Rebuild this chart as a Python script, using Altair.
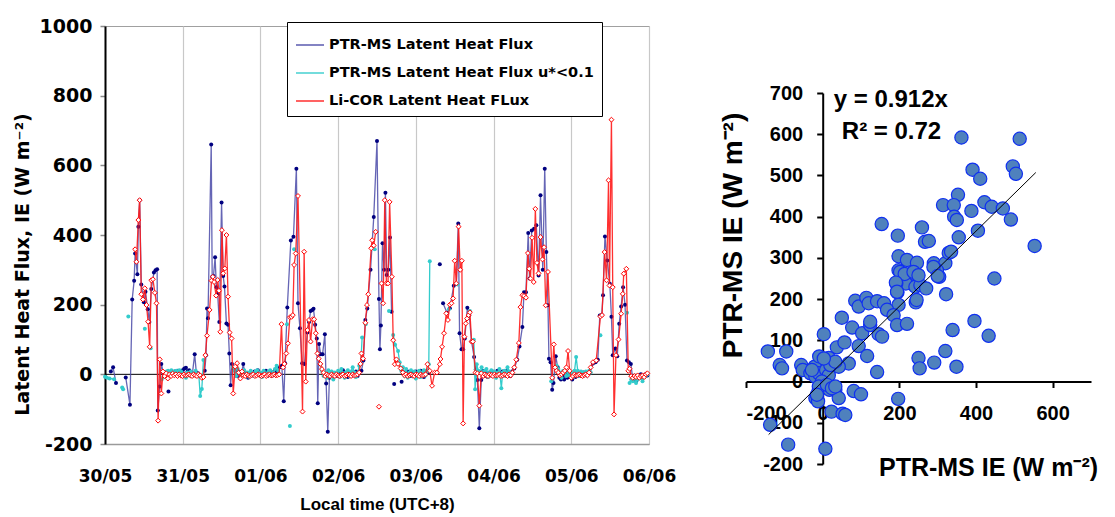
import altair as alt
import pandas as pd

# ---------------- time series (hours since 30/05 00:00, W m-2) ----------------
day_labels = ["30/05", "31/05", "01/06", "02/06", "03/06", "04/06", "05/06", "06/06"]
series_names = ["PTR-MS Latent Heat Flux", "PTR-MS Latent Heat Flux u*<0.1", "Li-COR Latent Heat FLux"]

ptr_hour = [
    1.8, 2.5, 3.4, None, 6.4, 7.7, 8.4, 9.0, 9.3, 10.0, 10.3, 10.7, 11.2, 12.0, 12.5, 13.2, 13.7, 14.3, 15.1, 15.6, 16.1, 16.3, 16.9, 17.4, 18.0, None, 19.6, None,
    21.0, 21.5, 22.0, 22.5, 23.0, 23.5, 24.0, 24.5, 25.0, 25.5, 26.0, 26.5, 27.0, 27.7, 28.2, 28.7, None,
    30.8, 31.2, 31.5, 31.8, 32.8, 33.1, 33.5, 34.0, 34.4, 34.8, 35.3, 36.0, 36.5, 36.9, 37.5, 38.0, 38.4, 38.8, 39.2, 39.7, 40.2, 40.7, 41.2, 41.7, 42.2, 42.7, 43.2, 43.7, 44.2, 44.7, 45.2, 45.7, 46.2, 46.7, 47.2, 47.7,
    48.2, 48.7, 49.2, 49.7, 50.2, 50.7, 51.2, 51.7, 52.2, 52.5, 53.0, 53.5, 54.0, 54.6, 55.2, 55.6, 56.3, 57.4, 58.2, 59.1, 59.6, 60.2, 60.9, 61.6, 62.5, 63.0, 63.5, 64.0, 64.4, 64.9, 65.4, 65.7, 66.1, 66.6, 67.2, 67.9, 68.3, 68.8, 69.3, 70.0, None,
    71.5, 72.0, 72.5, 73.0, 73.5, 74.0, 74.5, 75.0, 75.5, 76.0, 76.5, 77.0, 77.5, 78.0, 78.5, 79.2, 79.8, 80.4, 81.0, 82.0, 83.0, 84.0, 84.6, 84.9, 85.2, 85.7, 86.2, 86.6, 87.0, 87.5, 88.0, 88.5, None, 89.3, None, 91.6, None,
    92.5, 93.0, 93.5, 94.0, 94.5, 95.0, 95.5, 96.0, 96.5, 97.0, 97.5, 98.0, 98.5, 99.0, 99.5, 100.0, None, 103.4, None,
    104.4, 105.6, 106.5, 107.7, 108.5, 109.1, 109.5, 110.1, 110.6, 111.1, 111.9, 112.5, 113.2, 114.0, 114.5, 115.0, 115.6, 116.2, 116.7, 117.2, 117.7, 118.2, 118.7, 119.2, 119.7,
    120.2, 120.7, 121.2, 121.7, 122.2, 122.7, 123.2, 123.7, 124.2, 124.7, 125.2, 125.7, 126.4, 127.3, 128.0, 128.9, 129.4, 130.0, 130.7, 131.1, 131.8, 132.5, 133.2, 133.9, 134.5, 135.2, 135.8, 136.3, 136.8, 137.1, 137.6, 138.1, 138.5, 139.2, 139.8, 140.3, 140.8, 141.3, 141.8, 142.3, 142.8, 143.3, 143.8,
    144.3, 144.8, 145.3, 145.8, 146.3, 146.8, 147.3, 147.8, 148.3, 148.8, 149.3, 149.8, 150.7, 151.5, 152.2, 152.8, 153.4, 153.8, 154.4, 155.1, 155.9, 156.4, 156.8, 157.6, 158.2, 158.8, 159.4, 160.0, 160.6, 161.2, 161.8, 162.4, 163.0, 163.5, 164.0, 164.5, 165.0, 165.5, 166.0, 166.5, 167.0, 167.5,
]
ptr_flux = [
    8, 20, -25, None, -9, -87, 215, 269, 347, 287, 424, 500, 258, 207, 237, 187, 150, 245, 292, 299, 302, -104, -35, 30, 5, None, -49, None,
    3, 8, 5, 10, 3, 8, 12, 17, 19, 8, 12, 5, 3, 58, 5, 3, None,
    10, 55, 189, 161, 660, 280, 282, 336, 250, 230, 150, 493, 282, 252, 146, 142, 60, -31, 30, 17, 10, -5, 8, -10, 5, 30, 3, -5, -10, -5, 3, -3, 8, 5, 12, 3,
    -5, -3, 5, 10, -5, 3, 8, -3, 5, 12, 0, 5, 20, 25, -77, 32, 192, 384, 395, 590, 204, 132, 32, 30, 120, 150, 182, 185, 188, 142, 103, -83, 87, 58, 58, 115, -26, -165, -10, 5, None,
    -5, 3, -5, 3, 12, -3, 5, -8, 3, -5, 5, -3, 8, -5, 5, 10, 40, 156, 189, 300, 452, 670, 216, 72, 140, 376, 300, 521, 285, 300, 393, 180, None, -28, None, -21, None,
    5, -3, 8, 0, -5, 5, -3, 8, 3, -5, 10, 5, -8, 3, 10, 5, None, 316, None,
    204, 177, 190, 254, 260, 433, 118, 72, 72, 103, 191, 170, 94, 50, 14, -16, -155, -16, 10, -5, 3, -8, 5, -3, 8,
    5, -5, 10, 3, -5, 8, -3, 5, 12, 0, -5, 8, 17, 42, 80, 136, 236, 236, 406, 275, 413, 418, 428, 284, 514, 300, 590, 351, 198, 45, 35, -44, -25, 52, 20, -10, -15, -5, -15, 5, -10, 0, -5,
    -15, -5, -8, 0, -5, 3, -3, 5, 0, -3, 2, 5, 31, 35, 42, 169, 170, 227, 396, 327, 260, 165, 55, 74, 52, 145, 195, 250, 200, 40, 35, 30, -15, -10, -20, -5, -10, 0, -5, -8, 0, -3,
]

ust_hour = [
    0.0, 0.6, 1.4, 2.8, None, 5.3, 5.6, None, 7.2, None, 12.3, None, 14.1, None,
    17.5, 18.0, 18.5, 19.0, 19.5, 20.0, 20.5, 21.0, 21.5, 22.0, 22.5, 23.0, 23.5, 24.0, 24.5, 25.0, 25.5, 26.0, 26.5, 27.0, 27.5, 28.0, 28.5, 29.0, 29.4, 29.9, 30.4, None,
    39.5, 40.0, 40.5, 41.0, 41.5, 42.0, 42.5, 43.0, 43.5, 44.0, 44.5, 45.0, 45.5, 46.0, 46.5, 47.0, 47.5, 48.0, 48.5, 49.0, 49.5, 50.0, 50.5, 51.0, 51.5, 52.0, 52.5, 53.0, 53.5, None, 56.2, None, 57.1, None, 58.4, None,
    66.5, 67.0, 67.5, 68.0, 68.5, 69.0, 69.5, 70.0, 70.5, 71.0, 71.5, 72.0, 72.5, 73.0, 73.5, 74.0, 74.5, 75.0, 75.5, 76.0, 76.5, 77.0, 77.5, 78.0, 78.5, 79.0, 79.4, None, 80.5, None, 83.3, None, 87.7, None,
    89.0, 89.6, 90.5, 91.0, 91.5, 92.0, 92.5, 93.0, 93.5, 94.0, 94.5, 95.0, 95.5, 96.0, 96.5, 97.0, 97.5, 98.0, 98.5, 99.0, 99.5, 100.0, 100.3, None,
    106.2, None, 108.9, None, 112.7, None,
    113.9, 114.3, 114.8, 115.3, 115.8, 116.3, 116.8, 117.3, 117.8, 118.3, 118.8, 119.3, 119.8, 120.3, 120.8, 121.3, 121.8, 122.4, 122.8, 123.3, 123.8, 124.3, 124.8, None,
    137.8, None,
    139.5, 140.0, 140.5, 141.0, 141.5, 142.0, 142.5, 143.0, 143.5, 144.0, 144.5, 145.0, 145.5, 146.0, 146.5, 147.0, 147.5, 148.0, 148.5, 149.0, 149.5, 150.0, None,
    153.0, None, 161.2, None,
    162.0, 162.5, 163.0, 163.5, 164.0, 164.5, 165.0, 165.5, 166.0, 166.5, 167.0, 167.5,
]
ust_flux = [
    -7, -10, -12, -14, None, -38, -43, None, 166, None, 131, None, 75, None,
    -15, -8, 3, 8, 10, 5, 12, 8, 3, 10, 5, 12, 8, 3, -5, -10, 5, -3, 8, -5, 3, 10, 2, -5, -62, -42, 41, None,
    20, 10, -5, 15, 5, -3, 8, 12, -5, 5, -8, 10, 3, -5, 8, 12, -3, 5, -8, 10, 3, -5, 8, 12, -3, 5, 15, 25, 10, None, 144, None, -148, None, 359, None,
    30, 10, -5, 5, -10, 12, -5, 8, -15, 5, -3, 10, -8, 15, 3, -10, 5, 12, -5, 8, 20, 5, -8, 3, 25, 30, 106, None, 144, None, 359, None, 182, None,
    113, 85, 67, 35, 10, 20, -5, 15, -10, 5, 12, -5, 8, -12, 3, 10, -8, 5, 12, -3, 8, 29, 325, None,
    187, None, 258, None, 182, None,
    99, -43, 29, 10, 5, 20, -5, 10, 15, -8, 5, 12, -3, 8, -10, 5, 15, -40, 5, 10, -5, 20, 8, None,
    -20, None,
    25, 15, 5, -10, 10, 5, -5, 8, -3, 5, -8, 10, 50, 10, -5, 8, 5, -3, 8, 3, 10, 5, None,
    112, None, 177, None,
    -25, -15, -20, -10, -25, -15, -5, -10, -20, -8, -5, 0,
]

lic_hour = [
    9.3, 9.7, 10.3, 10.7, 11.2, 11.7, 12.3, 12.8, 13.3, 13.8, 14.3, 14.8, 15.4, 15.9, 16.4, 16.9, 17.4, 17.9,
    18.4, 18.9, 19.4, 19.9, 20.4, 20.9, 21.4, 21.9, 22.4, 22.9, 23.4, 23.9, 24.4, 24.9, 25.4, 25.9, 26.4, 26.9, 27.4, 27.9, 28.4, 28.9, 29.4, 29.9, 30.4,
    31.0, 31.5, 32.3, 32.9, 33.3, 33.7, 34.3, 34.8, 35.2, 35.6, 36.1, 36.5, 37.0, 37.5, 38.0, 38.5, 39.1, 39.6, 40.2, 40.8,
    41.3, 41.8, 42.3, 42.8, 43.3, 43.8, 44.3, 44.8, 45.3, 45.8, 46.3, 46.8, 47.3, 47.8, 48.3, 48.8, 49.3, 49.8, 50.3, 50.8, 51.3, 51.8, 52.3, 52.8, 53.3, 53.8,
    54.5, 55.0, 55.4, 56.0, 56.5, 57.1, 57.6, 58.0, 58.4, 58.9, 59.6, 61.0, 61.5, 62.0, 62.5, 63.0, 63.5, 64.1, 64.6, 65.1, 65.6, 66.0, 66.5,
    67.0, 67.5, 68.0, 68.5, 69.0, 69.5, 70.0, 70.5, 71.0, 71.5, 72.0, 72.5, 73.0, 73.5, 74.0, 74.5, 75.0, 75.5, 76.0, 76.5, 77.0, 77.5, 78.0, 78.5,
    78.9, 79.2, 79.7, 80.4, 80.9, 81.3, 82.2, 82.5, 83.0, 83.6, None, 84.6, None,
    85.4, 85.9, 86.4, 86.9, 87.4, 87.9, 88.6, 89.0, 89.5, 90.0, 90.5, 91.3,
    92.0, 92.5, 93.0, 93.5, 94.0, 94.5, 95.0, 95.5, 96.0, 96.5, 97.0, 97.5, 98.0, 98.5, 99.0,
    99.6, 100.3, 101.0, 101.8, 102.5, 103.4, 103.6, 104.1, 104.7, 105.4, 105.9, 106.5, 107.0, 107.5, 108.0, 108.5, 109.2, 109.7, 110.2, 110.6,
    111.0, 111.4, 111.8, 112.3, 112.7, 113.2, 113.6, 114.4, 115.0, 115.6, 116.2,
    116.8, 117.3, 117.8, 118.3, 118.8, 119.3, 119.8, 120.3, 120.8, 121.3, 121.8, 122.3, 122.8, 123.3, 123.8, 124.3, 124.8, 125.3, 125.8,
    126.4, 127.0, 127.8, 128.3, 128.9, 129.4, 130.0, 130.6, 131.0, 131.4, 131.9, 132.4, 132.9, 133.4, 133.9, 134.5, 135.1, 135.6, 136.1, 136.8,
    138.1, 138.6, 139.0, 139.5, 140.0, 140.5, 141.0, 141.5, 142.0, 142.5, 143.0, 143.5, 144.0, 144.5, 145.0, 145.5, 146.0, 146.5, 147.0, 147.5,
    148.0, 148.5, 149.0, 149.5, 150.0, 150.7, 151.7, 153.0, 153.5, 154.3, 154.9, 155.5, 155.8, 156.4, 156.8, 157.2, 157.8, 158.6, 159.4, 159.9,
    160.2, 161.0, 161.6, 162.0, 162.5, 163.0, 163.5, 164.0, 164.5, 165.0, 165.5, 166.0, 166.5, 167.0, 167.5,
]
lic_flux = [
    359, 323, 443, 500, 230, 215, 247, 199, 151, 79, 270, 273, 234, 204, -133, 43, -55, 8,
    -5, 3, -12, 0, -5, 2, -3, 0, -5, 0, -3, -5, 0, -3, -2, 0, -3, -5, 0, -3, -5, 0, -3, -10, -8,
    55, 111, 185, 269, 280, 265, 226, 271, 240, 122, 414, 290, 304, 400, 223, 120, 103, -55, 22, 32,
    5, -12, 8, -3, -5, 0, -3, -5, -2, 0, -5, -3, 0, -2, -5, -3, 0, -5, -2, 0, -3, -2, 0, -3, -2, 0,
    144, 20, 30, 60, 89, 164, 165, 170, 314, 347, 512, -107, 352, -21, 127, 156, 94, 158, 158, 118, 60, 45, 30,
    15, 5, -5, 0, -3, -5, 0, -3, -5, 0, -3, -5, -2, 0, -5, -3, 0, -2, -5, 0, -3, -2, 0, 5,
    30, 60, 45, 148, 199, 230, 362, 385, 370, 409, None, -93, None,
    261, 204, 500, 261, 261, 495, 280, 98, 29, 43, 30, 17,
    5, -3, 0, -5, -2, 0, -3, -5, 0, -2, -5, 0, -3, -2, 0,
    29, 10, -33, 5, 5, 29, 44, 79, 118, 175, 156, 200, 204, 218, 326, 261, 424, 300, 326, -141,
    108, 146, 160, 170, 178, 94, 94, 5, 3, -90, 3,
    -5, 0, -3, -5, 0, -2, -5, 0, -3, -2, 0, -5, -3, 0, -2, -5, 0, -3, 5,
    20, 42, 90, 193, 227, 225, 220, 348, 303, 275, 392, 265, 475, 320, 290, 394, 330, 365, 198, 294,
    -10, 86, 20, 10, 5, -3, 0, 5, 10, 20, 67, 10, -10, -5, 0, -3, -2, 0, -3, -5,
    -2, 0, -3, 5, 20, 35, 40, 166, 170, 351, 270, 557, 255, 731, 250, -115, 55, 100, 174, 231,
    289, 303, 10, 16, -5, -10, -5, -8, -3, -10, -5, -3, -8, 0, 3,
]

# ---------------- scatter (W m-2) ----------------
sc_x = [362, 514, 391, 411, 496, 504, 353, 314, 342, 343, 350, 388, 422, 441, 470, 491, 405, 355, 553, 154,
        196, 259, 267, 277, 198, 220, 246, 290, 320, 329, 304, 298, 198, 207, 233, 217, 242, 255, 270, 192,
        195, 198, 243, 322, 448, 85, 94, 114, 120, 142, 160, 168, 185, 194, 220, 50, 77, 103, 124, 124,
        146, 155, 396, 339, 433, 320, 250, 253, 291, 349, 142, 197, 3, 37, 57, 94, 116, 68, -143, -95,
        -112, -106, -56, -52, -21, -9, 16, 24, 42, -32, 3, -6, 16, -10, -19, -12, 18, 33, 42, 81,
        100, 23, 52, 59, -137, -90, 7, -19, -10, 9, 16, -2, -10, 11, 24, 33, -15, -28, 20, 33,
        3, 202, 214, 237, 250, 191, 289, 300, 335, 194, 245]
sc_y = [592, 589, 514, 492, 522, 504, 453, 428, 428, 400, 392, 414, 435, 424, 420, 393, 366, 350, 329, 382,
        354, 374, 339, 341, 304, 295, 288, 287, 287, 312, 254, 270, 270, 254, 262, 238, 230, 234, 226, 238,
        216, 186, 192, 212, 250, 196, 182, 203, 190, 195, 190, 174, 161, 137, 140, 155, 131, 117, 137, 145,
        115, 109, 147, 125, 111, 74, 57, 32, 46, 36, 23, -42, 115, 83, 95, 86, 62, 44, 73, 73,
        40, 32, 40, 28, 36, 61, 57, 44, 36, 20, 16, 4, -8, -20, -40, -48, -20, -20, -40, -23,
        -31, -73, -78, -81, -105, -153, -163, 12, 20, 28, 15, 0, -12, -8, -16, -12, -32, 28, 40, 48,
        56, 266, 261, 266, 258, 240, 278, 256, 315, 218, 198]
fit_slope = 0.912
fit_x = [-141, 556]
note_text = ["y = 0.912x", "R² = 0.72"]
note_x = [29, 50]
note_y = [682, 605]

assert len(ptr_hour) == len(ptr_flux)
assert len(ust_hour) == len(ust_flux)
assert len(lic_hour) == len(lic_flux)
assert len(sc_x) == len(sc_y)


def build(hours, flux, name):
    rows, seg = [], 0
    for h, v in zip(hours, flux):
        if v is None or h is None:
            seg += 1
            continue
        rows.append({"hour": h, "flux": v, "seg": seg, "series": name})
    return pd.DataFrame(rows)


navy_df = build(ptr_hour, ptr_flux, series_names[0])
cyan_df = build(ust_hour, ust_flux, series_names[1])
red_df = build(lic_hour, lic_flux, series_names[2])

label_expr = "[" + ",".join("'%s'" % d for d in day_labels) + "][round(datum.value / 24)]"
plain_num = "'' + datum.value"

x_enc = alt.X("hour:Q",
              scale=alt.Scale(domain=[0, 168], nice=False, zero=False),
              axis=alt.Axis(values=list(range(0, 169, 24)), labelExpr=label_expr,
                            labelOverlap=False, labelBound=False, labelFlush=False,
                            grid=True, gridColor="#C8C8C8", gridWidth=1.2,
                            ticks=False, domainColor="#9A9A9A", domainWidth=1.5,
                            labelFont="DejaVu Sans", labelFontWeight="bold", labelFontSize=17,
                            labelColor="black", labelPadding=24,
                            title="Local time (UTC+8)", titleFont="Liberation Sans",
                            titleFontSize=17, titleFontWeight="bold", titleColor="black",
                            titlePadding=12))
y_enc = alt.Y("flux:Q",
              scale=alt.Scale(domain=[-200, 1000], nice=False, zero=False),
              axis=alt.Axis(values=list(range(-200, 1001, 200)), labelExpr=plain_num, grid=False,
                            domainColor="black", domainWidth=2, tickColor="#8A8A8A",
                            tickSize=5, tickWidth=1.5,
                            labelFont="DejaVu Sans", labelFontWeight="bold", labelFontSize=19,
                            labelColor="black", labelPadding=8,
                            title="Latent Heat Flux, IE (W m⁻²)", titleFont="DejaVu Sans",
                            titleFontWeight="bold", titleFontSize=19, titleColor="black",
                            titleAngle=270, titleAlign="center", titleBaseline="middle",
                            titleX=-83, titleY=238))

color_enc = alt.Color("series:N",
                      scale=alt.Scale(domain=series_names, range=["#4A4AA8", "#33CCCC", "#FF1A1A"]),
                      legend=alt.Legend(title=None, orient="none", legendX=182, legendY=-4,
                                        direction="vertical", strokeColor="black", fillColor="white",
                                        padding=8, labelFont="DejaVu Sans", labelFontWeight="bold",
                                        labelFontSize=14.5, labelColor="black", labelLimit=400,
                                        symbolType="stroke", symbolSize=784, symbolStrokeWidth=1.6,
                                        labelOffset=4, rowPadding=6))

zero_rule = alt.Chart(pd.DataFrame({"flux": [0]})).mark_rule(color="black", strokeWidth=1).encode(y="flux:Q")

navy_line = alt.Chart(navy_df).mark_line(strokeWidth=1.3, opacity=0.85).encode(x=x_enc, y=y_enc, color=color_enc, detail="seg:N", order="hour:Q")
navy_pts = alt.Chart(navy_df).mark_point(filled=True, size=16, color="#000080", opacity=1).encode(x=x_enc, y=y_enc)
cyan_line = alt.Chart(cyan_df).mark_line(strokeWidth=1.3).encode(x=x_enc, y=y_enc, color=color_enc, detail="seg:N", order="hour:Q")
cyan_pts = alt.Chart(cyan_df).mark_point(filled=True, size=16, color="#33CCCC", opacity=1).encode(x=x_enc, y=y_enc)
red_line = alt.Chart(red_df).mark_line(strokeWidth=1.3, opacity=0.9).encode(x=x_enc, y=y_enc, color=color_enc, detail="seg:N", order="hour:Q")
red_pts = alt.Chart(red_df).mark_point(shape="diamond", filled=True, fill="white", stroke="#FF0000",
                                       strokeWidth=1, size=24, opacity=1).encode(x=x_enc, y=y_enc)

left = alt.layer(zero_rule, navy_line, navy_pts, cyan_line, cyan_pts, red_line, red_pts).properties(
    width=544, height=418, view=alt.ViewBackground(stroke="#A0A0A0", strokeWidth=1))

# ---------------- right scatter ----------------
sc_df = pd.DataFrame({"x": sc_x, "y": sc_y})
fit_df = pd.DataFrame({"x": fit_x})
note_df = pd.DataFrame({"x": note_x, "y": note_y, "t": note_text})

sx = alt.X("x:Q", scale=alt.Scale(domain=[-200, 700], nice=False, zero=False),
           axis=alt.Axis(values=[-200, 0, 200, 400, 600], labelExpr=plain_num, offset=-82.5, grid=False,
                         domainColor="black", domainWidth=2, tickColor="black", tickWidth=2, tickSize=6,
                         labelFont="Liberation Sans", labelFontWeight="bold", labelFontSize=20,
                         labelColor="black", labelPadding=16,
                         title="PTR-MS IE (W m⁻²)", titleFont="Liberation Sans", titleFontWeight="bold",
                         titleFontSize=25, titleColor="black", titleAlign="center", titleBaseline="middle",
                         titleX=242, titleY=86))
sy = alt.Y("y:Q", scale=alt.Scale(domain=[-200, 700], nice=False, zero=False),
           axis=alt.Axis(values=list(range(-200, 701, 100)), labelExpr=plain_num, offset=-76.7, grid=False,
                         domainColor="black", domainWidth=2, tickColor="black", tickWidth=2, tickSize=6,
                         labelFont="Liberation Sans", labelFontWeight="bold", labelFontSize=20,
                         labelColor="black", labelPadding=14,
                         title="PTR-MS  IE (W m⁻²)", titleFont="Liberation Sans", titleFontWeight="bold",
                         titleFontSize=28, titleColor="black", titleAngle=270, titleAlign="center",
                         titleBaseline="middle", titleX=-89, titleY=142))

pts = alt.Chart(sc_df).mark_circle(size=175, color="#4F81BD", opacity=1, stroke="#1030F0",
                                   strokeWidth=1.2).encode(x=sx, y=sy)
fit = alt.Chart(fit_df).transform_calculate(y="datum.x * %f" % fit_slope).mark_line(
    color="black", strokeWidth=1).encode(x=sx, y=sy)
notes = alt.Chart(note_df).mark_text(align="left", baseline="middle", font="Liberation Sans",
                                     fontWeight="bold", fontSize=24, color="black").encode(
    x=sx, y=sy, text="t:N")

right = alt.layer(pts, fit, notes).properties(width=345, height=371)

spacer = alt.Chart(pd.DataFrame({"a": [0]})).mark_point(opacity=0).encode(
    x=alt.value(0), y=alt.value(0)).properties(width=345, height=55)

right_col = alt.vconcat(spacer, right, spacing=0)

chart = alt.hconcat(left, right_col, spacing=42).configure(
    padding={"left": 4, "top": 8, "right": 0, "bottom": 0}, background="white"
).configure_view(stroke="transparent")

chart.save("out.html", embed_options={"renderer": "svg", "actions": False})
